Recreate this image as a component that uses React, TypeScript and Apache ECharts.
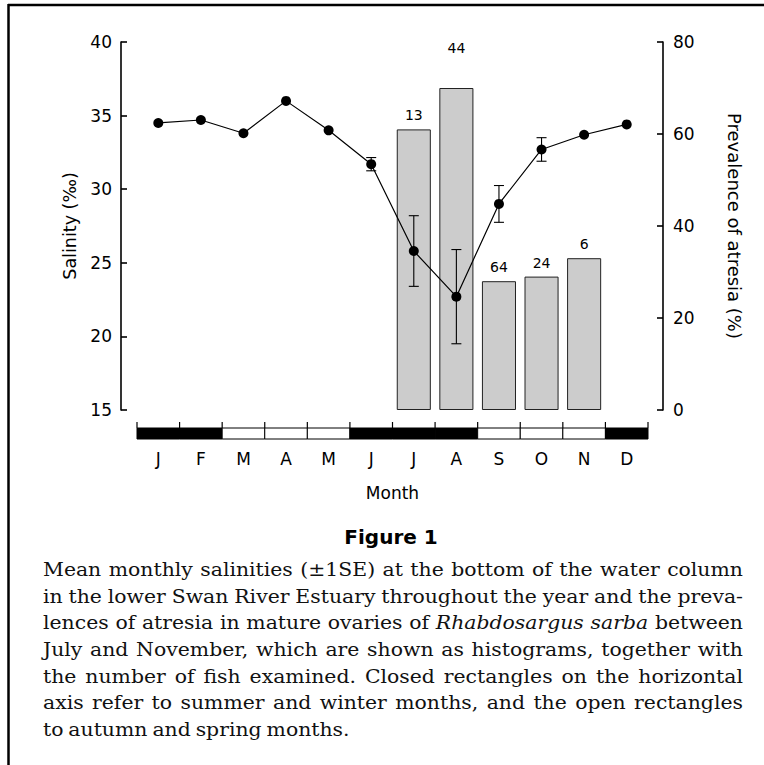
import React, { useEffect, useRef } from "react";
import * as echarts from "echarts";

const months = ["J", "F", "M", "A", "M", "J", "J", "A", "S", "O", "N", "D"];
const salinity = [34.5, 34.7, 33.8, 36.0, 34.0, 31.7, 25.8, 22.7, 29.0, 32.7, 33.7, 34.4];
const salinitySE = [0, 0, 0, 0, 0, 0.45, 2.4, 3.2, 1.25, 0.8, 0, 0];
const atresia = [null, null, null, null, null, null, 61, 70, 28, 29, 33, null];
const fishCount = [null, null, null, null, null, null, 13, 44, 64, 24, 6, null];
// 1 = closed rectangle (summer / winter), 0 = open rectangle (autumn / spring)
const closedSeason = [1, 1, 0, 0, 0, 1, 1, 1, 0, 0, 0, 1];
const salinityTicks = [15, 40, 5];
const atresiaTicks = [0, 80, 20];

const figureTitle = "Figure 1";
const captionLines: { t: string; i?: boolean }[][] = [
  [{ t: "Mean monthly salinities (±1SE) at the bottom of the water column" }],
  [{ t: "in the lower Swan River Estuary throughout the year and the preva-" }],
  [{ t: "lences of atresia in mature ovaries of" }, { t: "Rhabdosargus sarba", i: true }, { t: "between" }],
  [{ t: "July and November, which are shown as histograms, together with" }],
  [{ t: "the number of fish examined. Closed rectangles on the horizontal" }],
  [{ t: "axis refer to summer and winter months, and the open rectangles" }],
  [{ t: "to autumn and spring months." }],
];

const SANS = '"DejaVu Sans", sans-serif';
const SERIF = '"DejaVu Serif", serif';

function buildCaption(): any[] {
  const canvas = document.createElement("canvas");
  const ctx = canvas.getContext("2d")!;
  const fs = 19;
  const left = 43;
  const right = 743;
  const W = right - left;
  const y0 = 570;
  const lh = 26.6;
  ctx.font = `${fs}px ${SERIF}`;
  const natSpace = ctx.measureText(" ").width * 0.9;
  const lines = captionLines.map((segs) => {
    const words: { w: string; it: boolean; width: number }[] = [];
    segs.forEach((s) => {
      s.t.split(" ").filter((x) => x.length).forEach((w) => {
        ctx.font = `${s.i ? "italic " : ""}${fs}px ${SERIF}`;
        words.push({ w, it: !!s.i, width: ctx.measureText(w).width });
      });
    });
    const sum = words.reduce((a, b) => a + b.width, 0);
    return { words, sum };
  });
  // common horizontal stretch: the tightest justified line fits with natural spacing
  let sx = 1.3;
  lines.forEach((l, li) => {
    if (li === lines.length - 1) return;
    const n = l.words.length;
    const s = W / (l.sum + natSpace * (n - 1));
    if (s < sx) sx = s;
  });
  const els: any[] = [];
  lines.forEach((l, li) => {
    const n = l.words.length;
    const last = li === lines.length - 1;
    const space = last ? natSpace * 0.9 : (W - l.sum * sx) / (n - 1);
    let x = left;
    const y = y0 + li * lh;
    l.words.forEach((wd) => {
      els.push({
        type: "text",
        x,
        y,
        scaleX: sx,
        silent: true,
        style: {
          text: wd.w,
          fontSize: fs,
          fontFamily: SERIF,
          fontStyle: wd.it ? "italic" : "normal",
          fill: "#111",
          align: "left",
          verticalAlign: "middle",
          textAlign: "left",
          textVerticalAlign: "middle",
        },
      });
      x += wd.width * sx + space;
    });
  });
  return els;
}

export default function App() {
  const ref = useRef<HTMLDivElement>(null);
  useEffect(() => {
    if (!ref.current) return;
    const chart = echarts.init(ref.current, undefined, { renderer: "svg" });

    const stripData = months.map((_, i) => [i, salinityTicks[0], closedSeason[i]]);
    const errData = salinity
      .map((s, i) => (salinitySE[i] > 0 ? [i, s - salinitySE[i], s + salinitySE[i]] : null))
      .filter((d) => d !== null);

    const barData = atresia.map((v, i) =>
      v === null
        ? null
        : {
            value: v,
            label: { show: true, formatter: String(fishCount[i]), distance: i === 7 ? 33 : 7 },
          }
    );

    const option: any = {
      animation: false,
      textStyle: { fontFamily: SANS, color: "#000" },
      grid: { left: 137, right: 116, top: 42, bottom: 355, containLabel: false },
      xAxis: {
        type: "category",
        data: months,
        boundaryGap: true,
        offset: 18,
        name: "Month",
        nameLocation: "middle",
        nameGap: 56,
        nameTextStyle: { fontSize: 17, color: "#000", fontFamily: SANS },
        axisLine: { show: false },
        axisTick: { show: false },
        axisLabel: { fontSize: 17, color: "#000", margin: 22, interval: 0, fontFamily: SANS },
        splitLine: { show: false },
      },
      yAxis: [
        {
          type: "value",
          position: "left",
          min: salinityTicks[0],
          max: salinityTicks[1],
          interval: salinityTicks[2],
          offset: 16,
          name: "Salinity (‰)",
          nameLocation: "middle",
          nameRotate: 90,
          nameGap: 27,
          nameTextStyle: { fontSize: 17.5, color: "#000", fontFamily: SANS },
          axisLine: { show: true, lineStyle: { color: "#000", width: 1.6 } },
          axisTick: { show: true, inside: true, length: 6, lineStyle: { color: "#000", width: 1.6 } },
          axisLabel: { fontSize: 17, color: "#000", margin: 9, fontFamily: SANS },
          splitLine: { show: false },
        },
        {
          type: "value",
          position: "right",
          min: atresiaTicks[0],
          max: atresiaTicks[1],
          interval: atresiaTicks[2],
          offset: 15,
          name: "Prevalence of atresia (%)",
          nameLocation: "middle",
          nameRotate: -90,
          nameGap: 62,
          nameTextStyle: { fontSize: 18, color: "#000", fontFamily: SANS },
          axisLine: { show: true, lineStyle: { color: "#000", width: 1.6 } },
          axisTick: { show: true, inside: true, length: 6, lineStyle: { color: "#000", width: 1.6 } },
          axisLabel: { fontSize: 17, color: "#000", margin: 10, fontFamily: SANS },
          splitLine: { show: false },
        },
      ],
      series: [
        {
          type: "custom",
          name: "season",
          silent: true,
          clip: false,
          xAxisIndex: 0,
          yAxisIndex: 0,
          encode: { x: 0, y: 1 },
          data: stripData,
          z: 1,
          renderItem: (params: any, api: any) => {
            const i = api.value(0);
            const c = api.coord([i, api.value(1)]);
            const w = api.size([1, 0])[0];
            const closed = api.value(2) === 1;
            const top = c[1] + 18;
            const x0 = c[0] - w / 2;
            const tick = { stroke: "#000", lineWidth: 1.2 };
            const children: any[] = [
              {
                type: "rect",
                shape: { x: x0, y: top, width: w, height: 11 },
                style: { fill: closed ? "#000" : "#fff", stroke: "#000", lineWidth: 1 },
              },
              { type: "line", shape: { x1: x0, y1: top - 6, x2: x0, y2: top }, style: tick },
            ];
            if (i === months.length - 1) {
              children.push({ type: "line", shape: { x1: x0 + w, y1: top - 6, x2: x0 + w, y2: top }, style: tick });
            }
            return { type: "group", children };
          },
        },
        {
          type: "bar",
          name: "Prevalence of atresia",
          yAxisIndex: 1,
          barWidth: "80%",
          data: barData,
          z: 2,
          itemStyle: { color: "#cccccc", borderColor: "#222", borderWidth: 1 },
          label: { show: true, position: "top", fontSize: 14, color: "#000", fontFamily: SANS },
        },
        {
          type: "custom",
          name: "SE",
          yAxisIndex: 0,
          encode: { x: 0, y: [1, 2] },
          data: errData,
          z: 3,
          renderItem: (params: any, api: any) => {
            const i = api.value(0);
            const lo = api.coord([i, api.value(1)]);
            const hi = api.coord([i, api.value(2)]);
            const cap = 5;
            const st = { stroke: "#000", lineWidth: 1.1 };
            return {
              type: "group",
              children: [
                { type: "line", shape: { x1: hi[0], y1: hi[1], x2: lo[0], y2: lo[1] }, style: st },
                { type: "line", shape: { x1: hi[0] - cap, y1: hi[1], x2: hi[0] + cap, y2: hi[1] }, style: st },
                { type: "line", shape: { x1: lo[0] - cap, y1: lo[1], x2: lo[0] + cap, y2: lo[1] }, style: st },
              ],
            };
          },
        },
        {
          type: "line",
          name: "Salinity",
          yAxisIndex: 0,
          data: salinity,
          symbol: "circle",
          symbolSize: 10,
          z: 4,
          itemStyle: { color: "#000" },
          lineStyle: { color: "#000", width: 1.2 },
        },
      ],
      graphic: [
        { type: "line", silent: true, shape: { x1: 8, y1: 5, x2: 764, y2: 5 }, style: { stroke: "#000", lineWidth: 2.5 } },
        { type: "line", silent: true, shape: { x1: 8.5, y1: 4, x2: 8.5, y2: 765 }, style: { stroke: "#000", lineWidth: 2.5 } },
        {
          type: "text",
          x: 391,
          y: 537,
          silent: true,
          style: {
            text: figureTitle,
            fontSize: 20,
            fontWeight: "bold",
            fontFamily: SANS,
            fill: "#000",
            align: "center",
            verticalAlign: "middle",
            textAlign: "center",
            textVerticalAlign: "middle",
          },
        },
        ...buildCaption(),
      ],
    };
    chart.setOption(option);
    return () => chart.dispose();
  }, []);
  return (
    <div
      ref={ref}
      style={{ position: "fixed", left: 0, top: 0, width: 764, height: 765, background: "#fff" }}
    />
  );
}
